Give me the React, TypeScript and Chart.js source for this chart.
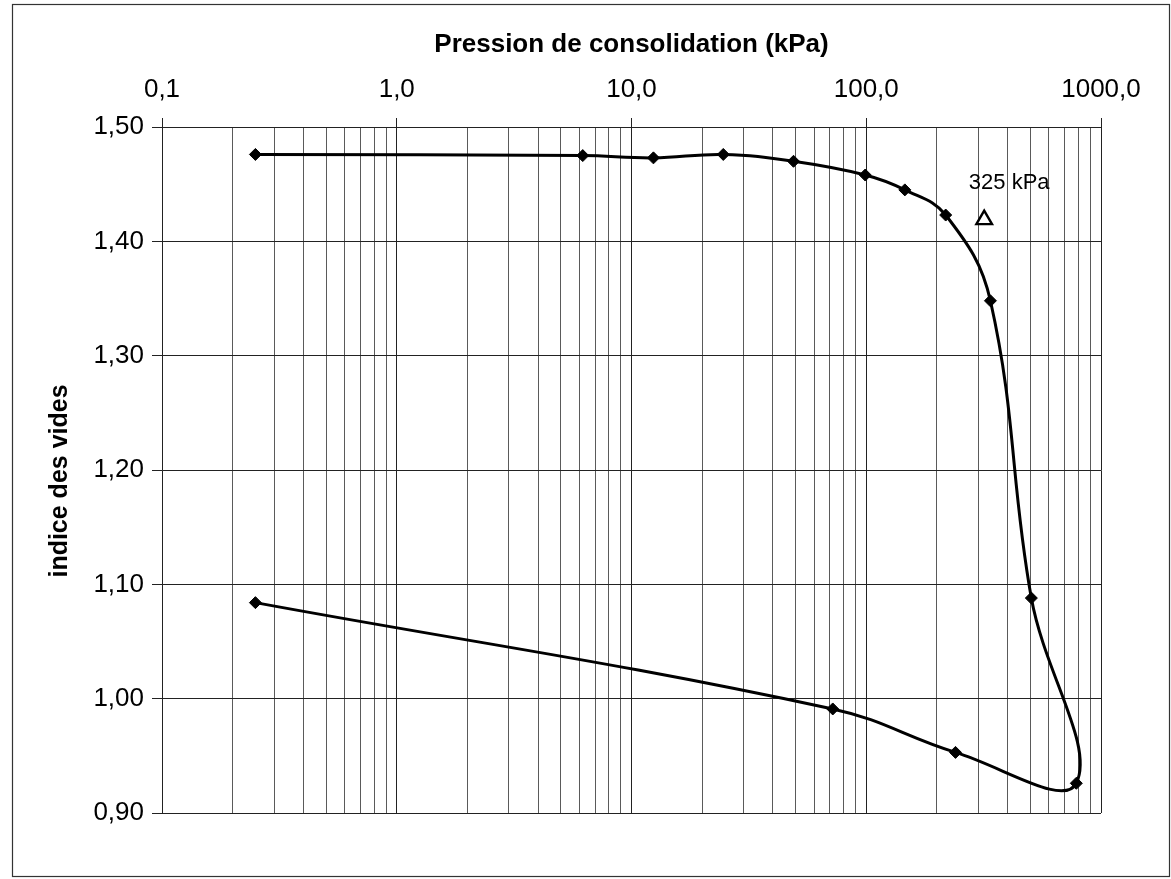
import React, { useEffect, useRef } from 'react';
import { Chart, registerables } from 'chart.js';

Chart.register(...registerables);

// Consolidation test: loading then unloading path (kPa, void ratio)
const pressureKPa = [0.25, 6.2, 12.4, 24.6, 49, 99, 146, 218, 338, 505, 785, 240, 72, 0.25];
const voidRatio = [1.476, 1.475, 1.473, 1.476, 1.47, 1.458, 1.445, 1.423, 1.348, 1.088, 0.926, 0.953, 0.991, 1.084];

// Preconsolidation marker
const markerPressure = [318];
const markerVoidRatio = [1.419];
const markerLabel = '325 kPa';

const xMajorTicks = [0.1, 1, 10, 100, 1000];
const xTickLabels = ['0,1', '1,0', '10,0', '100,0', '1000,0'];
const yTicks = [0.9, 1.0, 1.1, 1.2, 1.3, 1.4, 1.5];
const yTickLabels = ['0,90', '1,00', '1,10', '1,20', '1,30', '1,40', '1,50'];

const xTitle = 'Pression de consolidation (kPa)';
const yTitle = 'indice des vides';

const FONT = "'Liberation Sans', Arial, sans-serif";

function isMajor(v: number) {
  return xMajorTicks.some((m) => Math.abs(v - m) / m < 1e-6);
}

function buildXTicks() {
  const out: { value: number }[] = [];
  for (let d = 0; d < xMajorTicks.length - 1; d++) {
    const base = xMajorTicks[d];
    for (let k = 1; k <= 9; k++) out.push({ value: base * k });
  }
  out.push({ value: xMajorTicks[xMajorTicks.length - 1] });
  return out;
}

const frame = {
  id: 'frame',
  beforeDraw(chart: any) {
    const { ctx } = chart;
    ctx.save();
    ctx.fillStyle = '#ffffff';
    ctx.fillRect(0, 0, chart.width, chart.height);
    ctx.strokeStyle = '#333333';
    ctx.lineWidth = 1.2;
    ctx.strokeRect(12.5, 4.5, 1157, 872);
    ctx.restore();
  },
  afterDatasetsDraw(chart: any) {
    const { ctx } = chart;
    const meta = chart.getDatasetMeta(1);
    const pt = meta && meta.data && meta.data[0];
    ctx.save();
    ctx.fillStyle = '#000';
    if (pt) {
      ctx.font = `22px ${FONT}`;
      ctx.textAlign = 'center';
      ctx.textBaseline = 'middle';
      ctx.fillText(markerLabel, pt.x + 25, pt.y - 37);
    }
    // y-axis title
    ctx.translate(60, 481);
    ctx.rotate(-Math.PI / 2);
    ctx.font = `bold 25px ${FONT}`;
    ctx.textAlign = 'center';
    ctx.textBaseline = 'middle';
    ctx.fillText(yTitle, 0, 0);
    ctx.restore();
  },
};

export default function App() {
  const ref = useRef<HTMLCanvasElement | null>(null);

  useEffect(() => {
    if (!ref.current) return;
    const chart = new Chart(ref.current, {
      type: 'scatter',
      data: {
        datasets: [
          {
            data: pressureKPa.map((x, i) => ({ x, y: voidRatio[i] })),
            showLine: true,
            tension: 0.4,
            borderColor: '#000',
            borderWidth: 3,
            pointStyle: 'rectRot',
            pointRadius: 6,
            pointBackgroundColor: '#000',
            pointBorderColor: '#000',
            pointBorderWidth: 1,
          },
          {
            data: markerPressure.map((x, i) => ({ x, y: markerVoidRatio[i] })),
            showLine: false,
            pointStyle: 'triangle',
            pointRadius: 9,
            pointBackgroundColor: '#fff',
            pointBorderColor: '#000',
            pointBorderWidth: 2.4,
          },
        ],
      },
      options: {
        responsive: false,
        animation: false,
        devicePixelRatio: 1,
        layout: { padding: { left: 0, top: 0, right: 70, bottom: 66 } },
        plugins: {
          legend: { display: false },
          tooltip: { enabled: false },
          title: { display: false },
        },
        scales: {
          x: {
            type: 'logarithmic',
            position: 'top',
            min: 0.1,
            max: 1000,
            afterBuildTicks: (scale: any) => {
              scale.ticks = buildXTicks();
            },
            afterFit: (scale: any) => {
              scale.height = 127;
            },
            ticks: {
              autoSkip: false,
              maxRotation: 0,
              minRotation: 0,
              padding: 13,
              color: '#000',
              font: { family: FONT, size: 26 },
              callback: (v: any) => {
                const idx = xMajorTicks.findIndex((m) => Math.abs(Number(v) - m) / m < 1e-6);
                return idx >= 0 ? xTickLabels[idx] : '';
              },
            },
            grid: {
              color: (c: any) => (c.tick && isMajor(c.tick.value) ? '#222' : '#5a5a5a'),
              tickColor: (c: any) => (c.tick && isMajor(c.tick.value) ? '#222' : 'rgba(0,0,0,0)'),
              lineWidth: 1,
              tickLength: 9,
            },
            border: { display: true, color: '#222', width: 1 },
            title: {
              display: true,
              text: xTitle,
              color: '#000',
              font: { family: FONT, size: 26, weight: 'bold' },
              padding: { top: 29, bottom: 0 },
            },
          },
          y: {
            type: 'linear',
            min: 0.9,
            max: 1.5,
            afterBuildTicks: (scale: any) => {
              scale.ticks = yTicks.map((value) => ({ value }));
            },
            afterFit: (scale: any) => {
              scale.width = 162;
            },
            ticks: {
              padding: 8,
              color: '#000',
              font: { family: FONT, size: 26 },
              callback: (v: any) => {
                const idx = yTicks.findIndex((t) => Math.abs(Number(v) - t) < 1e-6);
                return idx >= 0 ? yTickLabels[idx] : '';
              },
            },
            grid: {
              color: '#222',
              tickColor: '#222',
              lineWidth: 1,
              tickLength: 10,
            },
            border: { display: true, color: '#222', width: 1 },
            title: { display: false },
          },
        },
      },
      plugins: [frame],
    } as any);
    return () => chart.destroy();
  }, []);

  return (
    <div style={{ position: 'absolute', left: 0, top: 0, width: 1171, height: 879, background: '#fff' }}>
      <canvas ref={ref} width={1171} height={879} style={{ width: 1171, height: 879, display: 'block' }} />
    </div>
  );
}
